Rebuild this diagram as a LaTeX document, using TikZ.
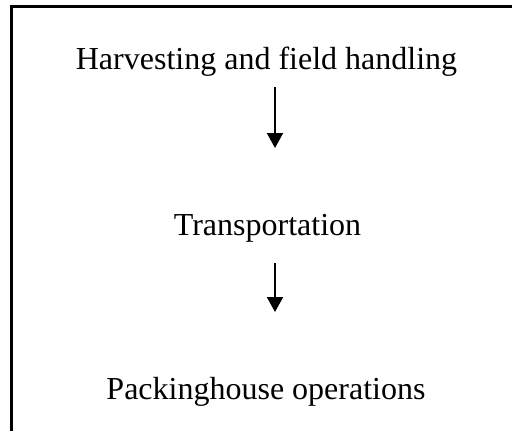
\documentclass[tikz,border=0pt]{standalone}
\usepackage{fontspec}
\setmainfont{Liberation Serif}
\usetikzlibrary{arrows.meta}
\tikzset{
  stage/.style={anchor=base, inner sep=0pt, font=\fontsize{32}{38}\selectfont},
  flow/.style={line width=2pt, -{Triangle[length=15pt,width=16pt]}},
  frame/.style={line width=2.6pt, line join=miter}
}
\begin{document}
\begin{tikzpicture}[x=1pt,y=-1pt]
  \useasboundingbox (0,0) rectangle (512,431);
  % open frame: top and left edges only
  \draw[frame] (512,6.5) -- (11.5,6.5) -- (11.5,431);
  % stages
  \node[stage] (harvest) at (266.5,69.3) {Harvesting and field handling};
  \node[stage] (transport) at (267.5,235) {Transportation};
  \node[stage] (pack) at (266,399.3) {Packinghouse operations};
  % arrow end points
  \coordinate (a1s) at (275,87);
  \coordinate (a1e) at (275,148);
  \coordinate (a2s) at (275,263);
  \coordinate (a2e) at (275,312);
  \draw[flow] (a1s) -- (a1e);
  \draw[flow] (a2s) -- (a2e);
\end{tikzpicture}
\end{document}
